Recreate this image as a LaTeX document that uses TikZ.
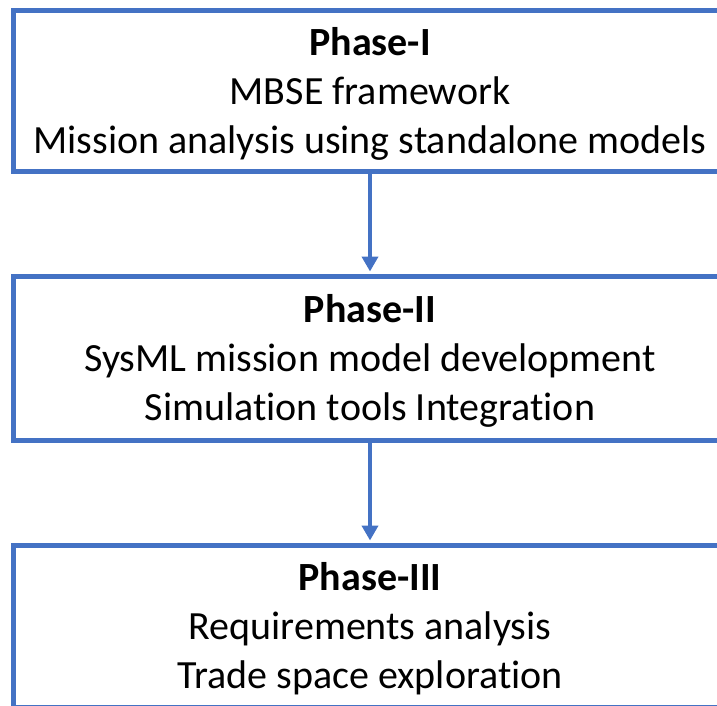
\documentclass[tikz,border=0pt]{standalone}
\usepackage{fontspec}
\setmainfont[Ligatures=NoCommon]{Carlito}
\usetikzlibrary{arrows.meta}
\definecolor{phaseblue}{HTML}{4472C4}
\newcommand{\toppad}{\rule{0pt}{34pt}}
\tikzset{
  phasebox/.style={draw=phaseblue, line width=5pt, fill=white,
    minimum width=713pt, inner sep=0pt, align=center,
    font=\fontsize{40}{49}\selectfont},
  flowarrow/.style={draw=phaseblue, line width=4.5pt,
    -{Triangle[width=16pt,length=15pt]}, shorten >=2pt}
}
\begin{document}
\begin{tikzpicture}[x=1pt,y=1pt]
  \useasboundingbox (0,0) rectangle (717,-705);
  \clip (0,0) rectangle (717,-705);
  \node[phasebox, minimum height=161.5pt] (p1) at (370,-90.75)
    {\toppad\textbf{Phase-I}\\MBSE framework\\Mission analysis using standalone models};
  \node[phasebox, minimum height=164pt] (p2) at (370,-358)
    {\toppad\textbf{Phase-II}\\SysML mission model development\\Simulation tools Integration};
  \node[phasebox, minimum height=162pt] (p3) at (370,-626)
    {\toppad\textbf{Phase-III}\\Requirements analysis\\Trade space exploration};
  \draw[flowarrow] (p1.south) -- (p2.north);
  \draw[flowarrow] (p2.south) -- (p3.north);
\end{tikzpicture}
\end{document}
